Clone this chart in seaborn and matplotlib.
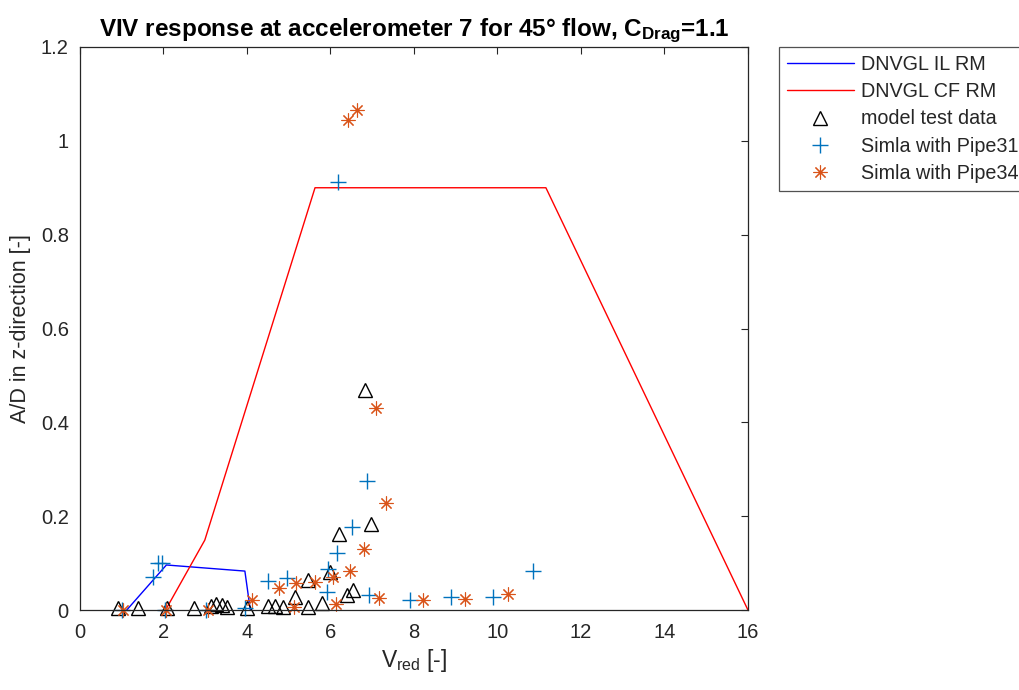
import matplotlib
matplotlib.use("Agg")
import matplotlib.pyplot as plt
import seaborn as sns

# DNVGL response models (reduced velocity vs. A/D)
il_vred = [1.12, 2.07, 3.95, 4.08]
il_ad = [0.0, 0.096, 0.083, 0.0]
cf_vred = [2.05, 2.99, 5.63, 11.16, 16.0]
cf_ad = [0.0, 0.149, 0.90, 0.90, 0.0]

# Model test measurements
test_vred = [0.92, 1.40, 2.08, 2.73, 3.15, 3.27, 3.39, 3.51, 3.99, 4.51, 4.67,
             4.87, 5.15, 5.47, 5.47, 5.79, 5.99, 6.21, 6.39, 6.53, 6.83, 6.96]
test_ad = [0.005, 0.005, 0.005, 0.005, 0.008, 0.013, 0.010, 0.006, 0.005, 0.008,
           0.008, 0.006, 0.028, 0.007, 0.064, 0.014, 0.082, 0.162, 0.032, 0.043,
           0.468, 0.183]

# Simla results, Pipe31
p31_vred = [1.00, 1.76, 1.88, 1.96, 2.04, 3.03, 3.95, 4.51, 4.95, 5.92, 5.95,
            6.16, 6.17, 6.51, 6.87, 6.93, 7.90, 8.88, 9.90, 10.86]
p31_ad = [0.0, 0.071, 0.100, 0.100, 0.0, 0.0, 0.005, 0.062, 0.068, 0.039, 0.087,
          0.121, 0.912, 0.178, 0.274, 0.032, 0.022, 0.028, 0.028, 0.084]

# Simla results, Pipe34
p34_vred = [1.02, 2.06, 3.07, 4.11, 4.77, 5.13, 5.17, 5.63, 6.07, 6.13, 6.41,
            6.47, 6.63, 6.81, 7.09, 7.17, 7.34, 8.21, 9.22, 10.26]
p34_ad = [0.0, 0.0, 0.0, 0.022, 0.048, 0.006, 0.057, 0.060, 0.071, 0.012, 1.045,
          0.084, 1.065, 0.131, 0.431, 0.025, 0.229, 0.021, 0.023, 0.034]

sns.set_style("white")
plt.rcParams["font.family"] = ["Liberation Sans", "DejaVu Sans"]
plt.rcParams["mathtext.fontset"] = "custom"
plt.rcParams["mathtext.rm"] = "Liberation Sans"
plt.rcParams["mathtext.it"] = "Liberation Sans:italic"
plt.rcParams["mathtext.bf"] = "Liberation Sans:bold"

INK = "#262626"
BLUE = "#0072BD"
ORANGE = "#D95319"

fig = plt.figure(figsize=(10.2, 6.9), dpi=100)
ax = fig.add_axes([0.0784, 0.1159, 0.6549, 0.8160])

sns.lineplot(x=il_vred, y=il_ad, ax=ax, color="blue", lw=1.0,
             sort=False, estimator=None, label="DNVGL IL RM")
sns.lineplot(x=cf_vred, y=cf_ad, ax=ax, color="red", lw=1.0,
             sort=False, estimator=None, label="DNVGL CF RM")
sns.lineplot(x=test_vred, y=test_ad, ax=ax, ls="", marker="^", ms=10,
             mfc="none", mec="black", mew=1.0, color="black", clip_on=False,
             sort=False, estimator=None, label="model test data")
sns.lineplot(x=p31_vred, y=p31_ad, ax=ax, ls="", marker="+", ms=11,
             mec=BLUE, mew=1.0, color=BLUE, clip_on=False,
             sort=False, estimator=None, label="Simla with Pipe31")
sns.lineplot(x=p34_vred, y=p34_ad, ax=ax, ls="", marker=(8, 2, 0), ms=10,
             mec=ORANGE, mew=0.8, color=ORANGE, clip_on=False,
             sort=False, estimator=None, label="Simla with Pipe34")

ax.set_xlim(0, 16)
ax.set_ylim(0, 1.2)
ax.set_xticks(range(0, 17, 2))
ax.set_yticks([0, 0.2, 0.4, 0.6, 0.8, 1.0, 1.2])
ax.set_yticklabels(["0", "0.2", "0.4", "0.6", "0.8", "1", "1.2"])

for s in ax.spines.values():
    s.set_visible(True)
    s.set_color(INK)
    s.set_linewidth(0.9)
ax.tick_params(direction="in", top=True, right=True, length=5, width=0.8,
               colors=INK, labelsize=14.5)
ax.tick_params(axis="x", pad=9)
ax.tick_params(axis="y", pad=8)

ax.set_xlabel(r"V$_{\mathregular{red}}$ [-]", fontsize=16.5, color=INK, labelpad=4)
ax.set_ylabel("A/D in z-direction [-]", fontsize=15.5, color=INK, labelpad=7)
ax.set_title(r"VIV response at accelerometer 7 for 45° flow, C$_{\mathbf{Drag}}$=1.1",
             fontsize=17.5, fontweight="bold", color="black", pad=8)

leg = ax.legend(loc="upper left", bbox_to_anchor=(1.046, 1.0), frameon=True,
                fancybox=False, edgecolor=INK, fontsize=14.2, handlelength=3.4,
                handletextpad=0.35, borderpad=0.4, labelspacing=0.42,
                borderaxespad=0.0)
leg.get_frame().set_linewidth(0.9)
for t in leg.get_texts():
    t.set_color(INK)

fig.savefig("out.png", dpi=100, facecolor="white")
